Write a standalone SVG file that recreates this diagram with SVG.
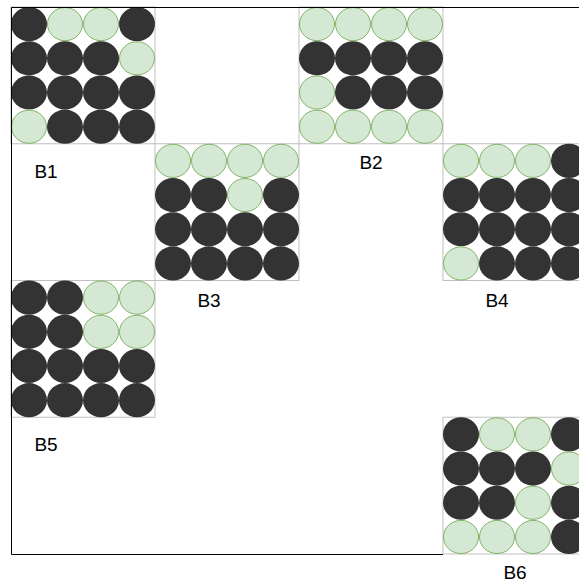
<svg xmlns="http://www.w3.org/2000/svg" width="579" height="584" viewBox="0 0 579 584">
<style>
.blk{fill:#ffffff;stroke:#c0c0c0;stroke-width:1}
.d{fill:#333333;stroke:none}
.g{fill:#d5e8d4;stroke:#82b366;stroke-width:1}
.lbl{font-family:"Liberation Sans",Arial,sans-serif;font-size:19px;fill:#000000;text-anchor:middle}
.frame{fill:none;stroke:#000000;stroke-width:1}
</style>
<rect x="0" y="0" width="579" height="584" fill="#ffffff"/>
<g id="B1" transform="translate(11,7)">
<rect class="blk" x="0" y="0" width="144" height="136.75"/>
<ellipse class="d" cx="18" cy="17.1" rx="18" ry="17.1"/><ellipse class="g" cx="54" cy="17.1" rx="17.5" ry="16.6"/><ellipse class="g" cx="90" cy="17.1" rx="17.5" ry="16.6"/><ellipse class="d" cx="126" cy="17.1" rx="18" ry="17.1"/>
<ellipse class="d" cx="18" cy="51.3" rx="18" ry="17.1"/><ellipse class="d" cx="54" cy="51.3" rx="18" ry="17.1"/><ellipse class="d" cx="90" cy="51.3" rx="18" ry="17.1"/><ellipse class="g" cx="126" cy="51.3" rx="17.5" ry="16.6"/>
<ellipse class="d" cx="18" cy="85.5" rx="18" ry="17.1"/><ellipse class="d" cx="54" cy="85.5" rx="18" ry="17.1"/><ellipse class="d" cx="90" cy="85.5" rx="18" ry="17.1"/><ellipse class="d" cx="126" cy="85.5" rx="18" ry="17.1"/>
<ellipse class="g" cx="18" cy="119.7" rx="17.5" ry="16.6"/><ellipse class="d" cx="54" cy="119.7" rx="18" ry="17.1"/><ellipse class="d" cx="90" cy="119.7" rx="18" ry="17.1"/><ellipse class="d" cx="126" cy="119.7" rx="18" ry="17.1"/>
</g>
<g id="B2" transform="translate(299,7)">
<rect class="blk" x="0" y="0" width="144" height="136.75"/>
<ellipse class="g" cx="18" cy="17.1" rx="17.5" ry="16.6"/><ellipse class="g" cx="54" cy="17.1" rx="17.5" ry="16.6"/><ellipse class="g" cx="90" cy="17.1" rx="17.5" ry="16.6"/><ellipse class="g" cx="126" cy="17.1" rx="17.5" ry="16.6"/>
<ellipse class="d" cx="18" cy="51.3" rx="18" ry="17.1"/><ellipse class="d" cx="54" cy="51.3" rx="18" ry="17.1"/><ellipse class="d" cx="90" cy="51.3" rx="18" ry="17.1"/><ellipse class="d" cx="126" cy="51.3" rx="18" ry="17.1"/>
<ellipse class="g" cx="18" cy="85.5" rx="17.5" ry="16.6"/><ellipse class="d" cx="54" cy="85.5" rx="18" ry="17.1"/><ellipse class="d" cx="90" cy="85.5" rx="18" ry="17.1"/><ellipse class="d" cx="126" cy="85.5" rx="18" ry="17.1"/>
<ellipse class="g" cx="18" cy="119.7" rx="17.5" ry="16.6"/><ellipse class="g" cx="54" cy="119.7" rx="17.5" ry="16.6"/><ellipse class="g" cx="90" cy="119.7" rx="17.5" ry="16.6"/><ellipse class="g" cx="126" cy="119.7" rx="17.5" ry="16.6"/>
</g>
<g id="B3" transform="translate(155,143.75)">
<rect class="blk" x="0" y="0" width="144" height="136.75"/>
<ellipse class="g" cx="18" cy="17.1" rx="17.5" ry="16.6"/><ellipse class="g" cx="54" cy="17.1" rx="17.5" ry="16.6"/><ellipse class="g" cx="90" cy="17.1" rx="17.5" ry="16.6"/><ellipse class="g" cx="126" cy="17.1" rx="17.5" ry="16.6"/>
<ellipse class="d" cx="18" cy="51.3" rx="18" ry="17.1"/><ellipse class="d" cx="54" cy="51.3" rx="18" ry="17.1"/><ellipse class="g" cx="90" cy="51.3" rx="17.5" ry="16.6"/><ellipse class="d" cx="126" cy="51.3" rx="18" ry="17.1"/>
<ellipse class="d" cx="18" cy="85.5" rx="18" ry="17.1"/><ellipse class="d" cx="54" cy="85.5" rx="18" ry="17.1"/><ellipse class="d" cx="90" cy="85.5" rx="18" ry="17.1"/><ellipse class="d" cx="126" cy="85.5" rx="18" ry="17.1"/>
<ellipse class="d" cx="18" cy="119.7" rx="18" ry="17.1"/><ellipse class="d" cx="54" cy="119.7" rx="18" ry="17.1"/><ellipse class="d" cx="90" cy="119.7" rx="18" ry="17.1"/><ellipse class="d" cx="126" cy="119.7" rx="18" ry="17.1"/>
</g>
<g id="B4" transform="translate(443,143.75)">
<rect class="blk" x="0" y="0" width="144" height="136.75"/>
<ellipse class="g" cx="18" cy="17.1" rx="17.5" ry="16.6"/><ellipse class="g" cx="54" cy="17.1" rx="17.5" ry="16.6"/><ellipse class="g" cx="90" cy="17.1" rx="17.5" ry="16.6"/><ellipse class="d" cx="126" cy="17.1" rx="18" ry="17.1"/>
<ellipse class="d" cx="18" cy="51.3" rx="18" ry="17.1"/><ellipse class="d" cx="54" cy="51.3" rx="18" ry="17.1"/><ellipse class="d" cx="90" cy="51.3" rx="18" ry="17.1"/><ellipse class="d" cx="126" cy="51.3" rx="18" ry="17.1"/>
<ellipse class="d" cx="18" cy="85.5" rx="18" ry="17.1"/><ellipse class="d" cx="54" cy="85.5" rx="18" ry="17.1"/><ellipse class="d" cx="90" cy="85.5" rx="18" ry="17.1"/><ellipse class="d" cx="126" cy="85.5" rx="18" ry="17.1"/>
<ellipse class="g" cx="18" cy="119.7" rx="17.5" ry="16.6"/><ellipse class="d" cx="54" cy="119.7" rx="18" ry="17.1"/><ellipse class="d" cx="90" cy="119.7" rx="18" ry="17.1"/><ellipse class="d" cx="126" cy="119.7" rx="18" ry="17.1"/>
</g>
<g id="B5" transform="translate(11,280.5)">
<rect class="blk" x="0" y="0" width="144" height="136.75"/>
<ellipse class="d" cx="18" cy="17.1" rx="18" ry="17.1"/><ellipse class="d" cx="54" cy="17.1" rx="18" ry="17.1"/><ellipse class="g" cx="90" cy="17.1" rx="17.5" ry="16.6"/><ellipse class="g" cx="126" cy="17.1" rx="17.5" ry="16.6"/>
<ellipse class="d" cx="18" cy="51.3" rx="18" ry="17.1"/><ellipse class="d" cx="54" cy="51.3" rx="18" ry="17.1"/><ellipse class="g" cx="90" cy="51.3" rx="17.5" ry="16.6"/><ellipse class="g" cx="126" cy="51.3" rx="17.5" ry="16.6"/>
<ellipse class="d" cx="18" cy="85.5" rx="18" ry="17.1"/><ellipse class="d" cx="54" cy="85.5" rx="18" ry="17.1"/><ellipse class="d" cx="90" cy="85.5" rx="18" ry="17.1"/><ellipse class="d" cx="126" cy="85.5" rx="18" ry="17.1"/>
<ellipse class="d" cx="18" cy="119.7" rx="18" ry="17.1"/><ellipse class="d" cx="54" cy="119.7" rx="18" ry="17.1"/><ellipse class="d" cx="90" cy="119.7" rx="18" ry="17.1"/><ellipse class="d" cx="126" cy="119.7" rx="18" ry="17.1"/>
</g>
<g id="B6" transform="translate(443,417.25)">
<rect class="blk" x="0" y="0" width="144" height="136.75"/>
<ellipse class="d" cx="18" cy="17.1" rx="18" ry="17.1"/><ellipse class="g" cx="54" cy="17.1" rx="17.5" ry="16.6"/><ellipse class="g" cx="90" cy="17.1" rx="17.5" ry="16.6"/><ellipse class="d" cx="126" cy="17.1" rx="18" ry="17.1"/>
<ellipse class="d" cx="18" cy="51.3" rx="18" ry="17.1"/><ellipse class="d" cx="54" cy="51.3" rx="18" ry="17.1"/><ellipse class="d" cx="90" cy="51.3" rx="18" ry="17.1"/><ellipse class="g" cx="126" cy="51.3" rx="17.5" ry="16.6"/>
<ellipse class="d" cx="18" cy="85.5" rx="18" ry="17.1"/><ellipse class="d" cx="54" cy="85.5" rx="18" ry="17.1"/><ellipse class="g" cx="90" cy="85.5" rx="17.5" ry="16.6"/><ellipse class="d" cx="126" cy="85.5" rx="18" ry="17.1"/>
<ellipse class="g" cx="18" cy="119.7" rx="17.5" ry="16.6"/><ellipse class="g" cx="54" cy="119.7" rx="17.5" ry="16.6"/><ellipse class="g" cx="90" cy="119.7" rx="17.5" ry="16.6"/><ellipse class="d" cx="126" cy="119.7" rx="18" ry="17.1"/>
</g>
<g id="connectors">
<path class="frame" d="M443,554.5 H11.5 V7.5 H579"/>
</g>
<g id="labels">
<text class="lbl" x="46" y="178">B1</text>
<text class="lbl" x="371" y="169">B2</text>
<text class="lbl" x="209" y="307">B3</text>
<text class="lbl" x="497" y="307">B4</text>
<text class="lbl" x="46" y="451">B5</text>
<text class="lbl" x="515" y="579">B6</text>
</g>
</svg>
